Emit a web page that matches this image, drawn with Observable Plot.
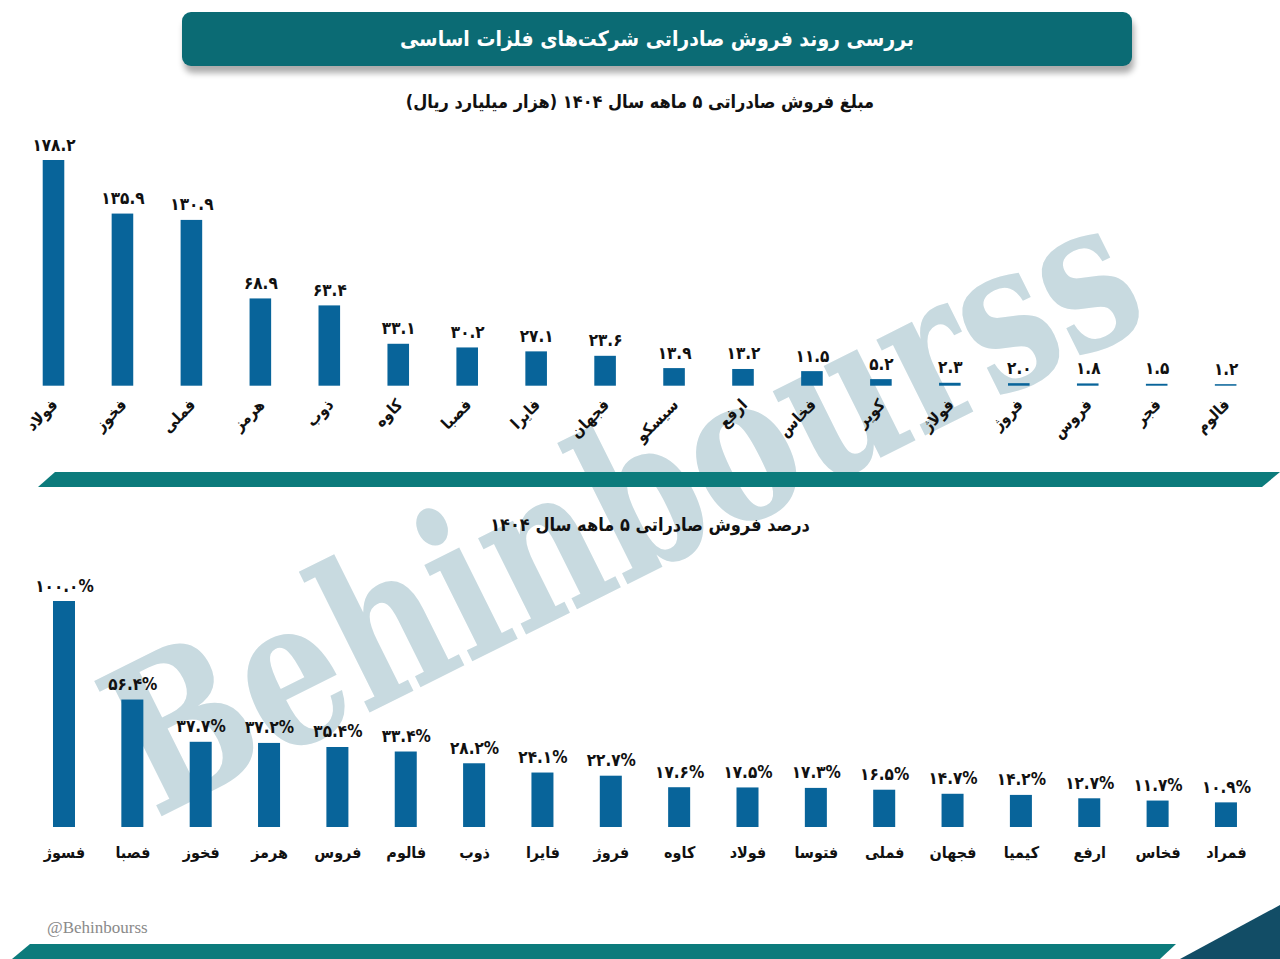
<!DOCTYPE html>
<html lang="fa">
<head>
<meta charset="utf-8">
<script src="https://cdn.jsdelivr.net/npm/d3@7"></script>
<script src="https://cdn.jsdelivr.net/npm/@observablehq/plot@0.6"></script>
<style>
  html, body { margin: 0; padding: 0; background: #fff; }
  #page { position: relative; width: 1280px; height: 959px; overflow: hidden; background: #fff;
          font-family: "DejaVu Sans Condensed", "DejaVu Sans", sans-serif; }
  .abs { position: absolute; }
  #watermark { left: 622px; top: 505px; transform: translate(-50%, -50%) rotate(-26.5deg) scale(0.93, 1.22);
               font-family: "DejaVu Serif", serif; font-weight: bold; font-size: 170px; line-height: 1;
               color: #c8dae0; white-space: nowrap; z-index: 0; }
  #header { left: 182px; top: 12px; width: 950px; height: 54px; background: #0b6b74; border-radius: 9px;
            box-shadow: 2px 7px 6px rgba(0,0,0,0.33); color: #fff; font-weight: bold; font-size: 21px;
            display: flex; align-items: center; justify-content: center; direction: rtl; z-index: 2; }
  .subtitle { left: 0; width: 1280px; text-align: center; font-weight: bold; font-size: 18px; color: #111;
              direction: rtl; z-index: 2; }
  .chart { left: 0; z-index: 1; }
  #footer { left: 47px; top: 918px; font-family: "Liberation Serif", serif; font-size: 17px; color: #8a8a8a; z-index: 2; }
</style>
</head>
<body>
<div id="page">
  <div id="watermark" class="abs">Behinbourss</div>
  <div id="header" class="abs">بررسی روند فروش صادراتی شرکت‌های فلزات اساسی</div>
  <div class="abs subtitle" style="top:91px">مبلغ فروش صادراتی ۵ ماهه سال ۱۴۰۴ (هزار میلیارد ریال)</div>
  <div id="top-chart" class="abs chart" style="top:120px"></div>
  <svg class="abs" style="left:0;top:466px;z-index:2" width="1280" height="26">
    <polygon points="55,6 1280,6 1262,21 38,21" fill="#0c7b7c"/>
  </svg>
  <div class="abs subtitle" style="top:514px;padding-left:10px">درصد فروش صادراتی ۵ ماهه سال ۱۴۰۴</div>
  <div id="bottom-chart" class="abs chart" style="top:560px"></div>
  <div id="footer" class="abs">@Behinbourss</div>
  <svg class="abs" style="left:0;top:900px;z-index:2" width="1280" height="59">
    <polygon points="30,44 1176,44 1160,59 12,59" fill="#0c7b7c"/>
    <polygon points="1280,5 1280,59 1180,59" fill="#124d66"/>
  </svg>
</div>
<script>
// ---- Data ----
const topNames = ["فولاد","فخوز","فملی","هرمز","ذوب","کاوه","فصبا","فایرا","فجهان","سیسکو","ارفع","فخاس","کویر","فولاژ","فروژ","فروس","فجر","فالوم"];
const topValues = [178.2,135.9,130.9,68.9,63.4,33.1,30.2,27.1,23.6,13.9,13.2,11.5,5.2,2.3,2.0,1.8,1.5,1.2];

const bottomNames = ["فسوژ","فصبا","فخوز","هرمز","فروس","فالوم","ذوب","فایرا","فروژ","کاوه","فولاد","فتوسا","فملی","فجهان","کیمیا","ارفع","فخاس","فمراد"];
const bottomValues = [100.0,56.4,37.7,37.2,35.4,33.4,28.2,24.1,22.7,17.6,17.5,17.3,16.5,14.7,14.2,12.7,11.7,10.9];

const barColor = "#08649a";
const fontFamily = '"DejaVu Sans Condensed", "DejaVu Sans", sans-serif';

const faDigits = "۰۱۲۳۴۵۶۷۸۹";
const toFa = s => String(s).replace(/[0-9]/g, d => faDigits[+d]);

const topData = topNames.map((n, i) => ({name: n, value: topValues[i], label: toFa(topValues[i].toFixed(1))}));
const bottomData = bottomNames.map((n, i) => ({name: n, value: bottomValues[i], label: toFa(bottomValues[i].toFixed(1)) + "%"}));

const topPlot = Plot.plot({
  width: 1280,
  height: 330,
  margin: 0,
  style: {background: "transparent", fontFamily, overflow: "visible"},
  x: {type: "band", domain: topNames, range: [-4.66, 1283.8], padding: 0.687, round: false, axis: null},
  y: {domain: [0, 178.2], range: [265.7, 40], axis: null},
  marks: [
    Plot.barY(topData, {x: "name", y: "value", fill: barColor}),
    Plot.text(topData, {x: "name", y: "value", text: "label", dy: -10, lineAnchor: "bottom",
                        fontSize: 17, fontWeight: "bold", fill: "#111"}),
    Plot.text(topData, {x: "name", y: () => 0, text: "name", rotate: -45, textAnchor: "end",
                        dx: 1, dy: 16, fontSize: 16, fontWeight: "bold", fill: "#111"})
  ]
});
document.getElementById("top-chart").appendChild(topPlot);

const bottomPlot = Plot.plot({
  width: 1280,
  height: 320,
  margin: 0,
  style: {background: "transparent", fontFamily, overflow: "visible"},
  x: {type: "band", domain: bottomNames, range: [6.65, 1283.3], padding: 0.678, round: false, axis: null},
  y: {domain: [0, 100], range: [267, 41], axis: null},
  marks: [
    Plot.barY(bottomData, {x: "name", y: "value", fill: barColor}),
    Plot.text(bottomData, {x: "name", y: "value", text: "label", dy: -10, lineAnchor: "bottom",
                           fontSize: 17, fontWeight: "bold", fill: "#111"}),
    Plot.text(bottomData, {x: "name", y: () => 0, text: "name", dy: 25,
                           fontSize: 16, fontWeight: "bold", fill: "#111"})
  ]
});
document.getElementById("bottom-chart").appendChild(bottomPlot);
</script>
</body>
</html>
